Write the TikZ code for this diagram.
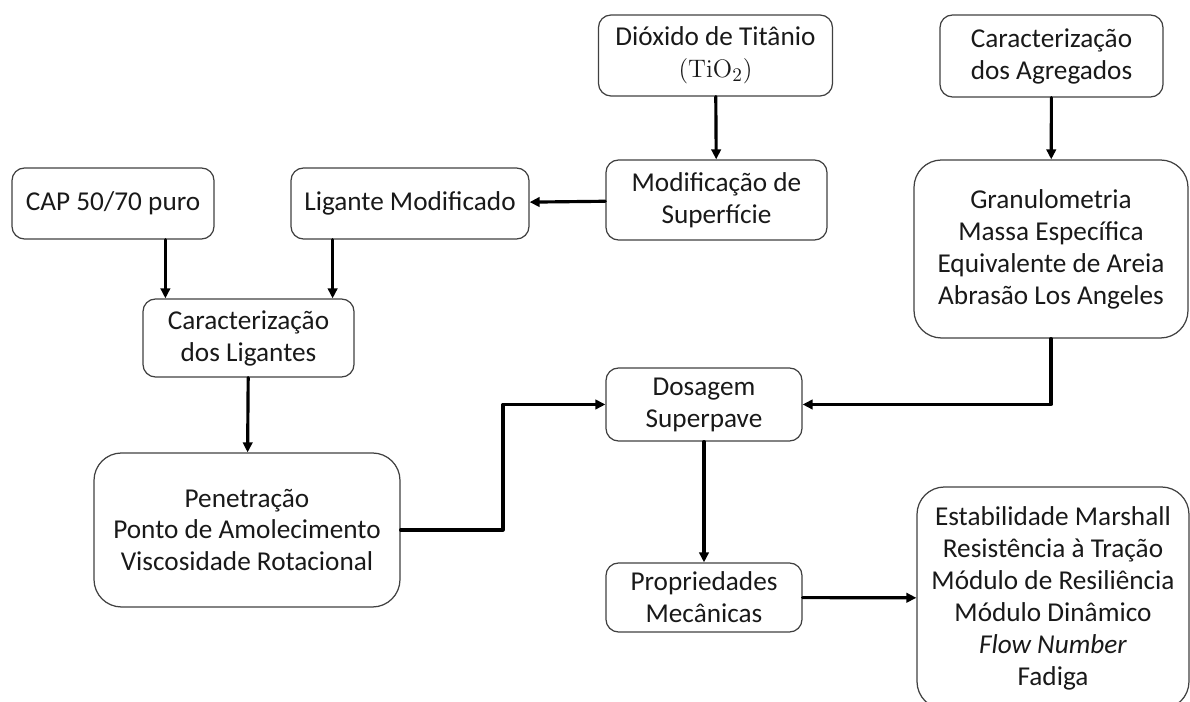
\documentclass[tikz,border=0pt]{standalone}
\usepackage[no-math]{fontspec}
\setmainfont{Carlito}
\usetikzlibrary{arrows.meta}

\begin{document}
\begin{tikzpicture}[line cap=round, line join=round]
  \tikzset{
    box/.style={draw=black!75, line width=0.7pt, rounded corners=0.25cm, align=center,
      inner sep=0pt, text=black!90, font=\fontsize{15.5}{18.2}\selectfont},
    bigbox/.style={box, rounded corners=0.55cm},
    fluxo/.style={line width=1.8pt, draw=black, -{Triangle[length=5.7pt, width=5.4pt]}}
  }
  \clip (0,0) rectangle (23.8,14.04);

  % ramo do ligante
  \node[box, minimum width=4.68cm, minimum height=1.62cm] (tio2) at (14.31,12.93) {Dióxido de Titânio\\$(\mathrm{TiO_2})$};
  \node[box, minimum width=4.42cm, minimum height=1.60cm] (modif) at (14.33,10.04) {Modificação de\\Superfície};
  \node[box, minimum width=4.04cm, minimum height=1.42cm] (cap) at (2.26,9.97) {CAP 50/70 puro};
  \node[box, minimum width=4.76cm, minimum height=1.42cm] (ligmod) at (8.20,9.97) {Ligante Modificado};
  \node[box, minimum width=4.22cm, minimum height=1.56cm] (caraclig) at (4.97,7.28) {Caracterização\\dos Ligantes};
  \node[bigbox, minimum width=6.12cm, minimum height=3.08cm] (ensligante) at (4.94,3.44) {Penetração\\Ponto de Amolecimento\\Viscosidade Rotacional};

  % ramo dos agregados
  \node[box, minimum width=4.46cm, minimum height=1.64cm] (caracagr) at (21.03,12.92) {Caracterização\\dos Agregados};
  \node[bigbox, minimum width=5.48cm, minimum height=3.56cm] (ensagr) at (21.02,9.06) {Granulometria\\Massa Específica\\Equivalente de Areia\\Abrasão Los Angeles};

  % mistura
  \node[box, minimum width=3.92cm, minimum height=1.46cm] (dosagem) at (14.08,5.95) {Dosagem\\Superpave};
  \node[box, minimum width=3.92cm, minimum height=1.38cm] (propmec) at (14.08,2.09) {Propriedades\\Mecânicas};
  \node[bigbox, minimum width=5.44cm, minimum height=4.44cm] (ensmist) at (21.06,2.08) {Estabilidade Marshall\\Resistência à Tração\\Módulo de Resiliência\\Módulo Dinâmico\\\textit{Flow Number}\\Fadiga};

  \coordinate (entra1) at ([xshift=0.46cm]caraclig.north west);
  \coordinate (entra2) at ([xshift=-0.44cm]caraclig.north east);
  \coordinate (dobra) at (10.06,5.95);

  % setas
  \draw[fluxo] (tio2) -- (modif);
  \draw[fluxo] (modif) -- (ligmod);
  \draw[fluxo] (cap.south -| entra1) -- (entra1);
  \draw[fluxo] (ligmod.south -| entra2) -- (entra2);
  \draw[fluxo] (caraclig) -- (ensligante);
  \draw[fluxo] (ensligante.east) -| (dobra) -- (dosagem.west);
  \draw[fluxo] (caracagr) -- (ensagr);
  \draw[fluxo] (ensagr.south) |- (dosagem.east);
  \draw[fluxo] (dosagem) -- (propmec);
  \draw[fluxo] (propmec) -- (ensmist);
\end{tikzpicture}
\end{document}
